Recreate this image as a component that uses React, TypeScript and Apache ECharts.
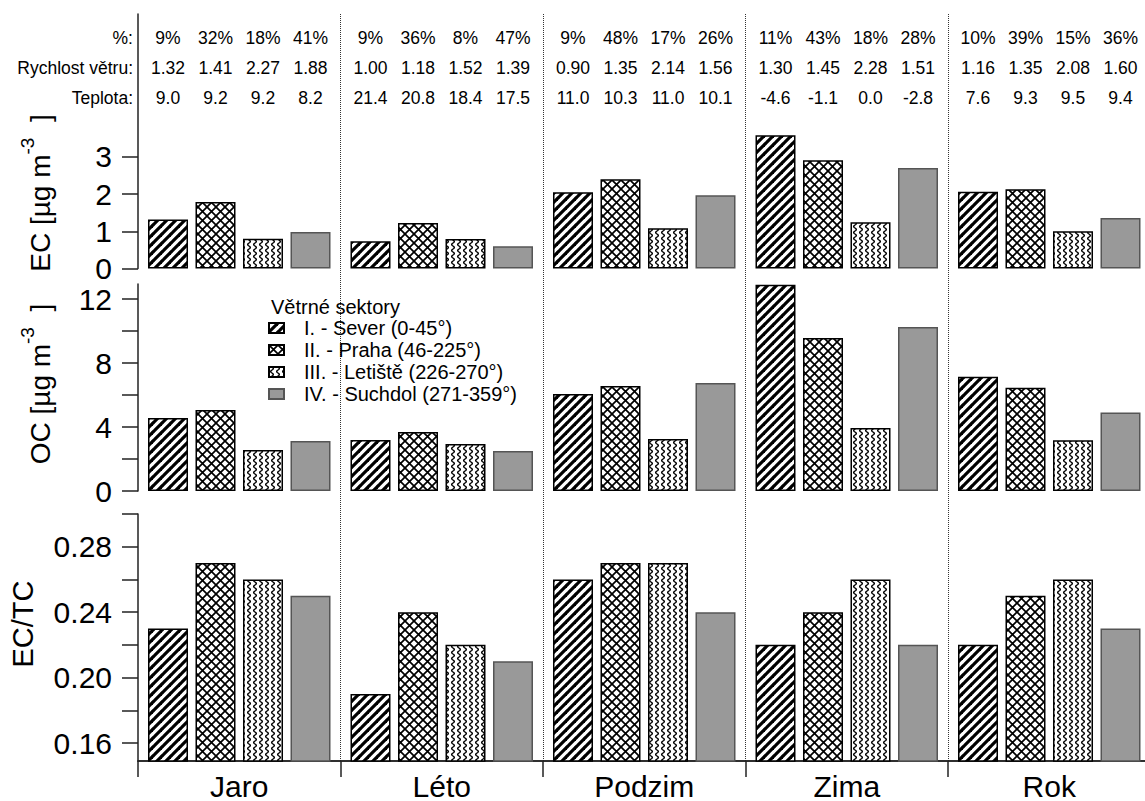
import React, { useEffect, useRef } from "react";
import * as echarts from "echarts";

// Categories
const seasons = ["Jaro", "Léto", "Podzim", "Zima", "Rok"];
const sectors = [
  "I. - Sever (0-45°)",
  "II. - Praha (46-225°)",
  "III. - Letiště (226-270°)",
  "IV. - Suchdol (271-359°)",
];

// EC [µg m-3] per sector, by season
const ecSever = [1.32, 0.73, 2.05, 3.58, 2.06];
const ecPraha = [1.79, 1.22, 2.4, 2.91, 2.13];
const ecLetiste = [0.8, 0.79, 1.08, 1.24, 1.0];
const ecSuchdol = [0.98, 0.6, 1.97, 2.7, 1.36];

// OC [µg m-3] per sector, by season
const ocSever = [4.56, 3.19, 6.06, 12.9, 7.14];
const ocPraha = [5.06, 3.69, 6.56, 9.56, 6.46];
const ocLetiste = [2.56, 2.94, 3.25, 3.94, 3.17];
const ocSuchdol = [3.12, 2.5, 6.75, 10.25, 4.9];

// EC/TC per sector, by season
const ratioSever = [0.23, 0.19, 0.26, 0.22, 0.22];
const ratioPraha = [0.27, 0.24, 0.27, 0.24, 0.25];
const ratioLetiste = [0.26, 0.22, 0.27, 0.26, 0.26];
const ratioSuchdol = [0.25, 0.21, 0.24, 0.22, 0.23];

// Table above the bars: one row per season, one entry per sector
const sharePct = [
  [9, 32, 18, 41],
  [9, 36, 8, 47],
  [9, 48, 17, 26],
  [11, 43, 18, 28],
  [10, 39, 15, 36],
];
const windSpeed = [
  [1.32, 1.41, 2.27, 1.88],
  [1.0, 1.18, 1.52, 1.39],
  [0.9, 1.35, 2.14, 1.56],
  [1.3, 1.45, 2.28, 1.51],
  [1.16, 1.35, 2.08, 1.6],
];
const temperature = [
  [9.0, 9.2, 9.2, 8.2],
  [21.4, 20.8, 18.4, 17.5],
  [11.0, 10.3, 11.0, 10.1],
  [-4.6, -1.1, 0.0, -2.8],
  [7.6, 9.3, 9.5, 9.4],
];
const tableRowLabels = ["%:", "Rychlost větru:", "Teplota:"];

// Axis ticks
const ecTicks = [0, 1, 2, 3];
const ocLabels = [0, 4, 8, 12];
const ocTicks = [0, 2, 4, 6, 8, 10, 12];
const ratioLabels = [0.16, 0.2, 0.24, 0.28];
const ratioTicks = [0.16, 0.18, 0.2, 0.22, 0.24, 0.26, 0.28, 0.3];

const FONT = '"Liberation Sans", Arial, Helvetica, sans-serif';
const BAR_WIDTH = 40;
const BAR_GAP = 0.1875;
const AXIS_COLOR = "#222";
const ROW_OFFSETS = [24, 54, 84];

function tile(w: number, h: number, draw: (ctx: CanvasRenderingContext2D) => void) {
  const c = document.createElement("canvas");
  c.width = w;
  c.height = h;
  const ctx = c.getContext("2d")!;
  ctx.fillStyle = "#fff";
  ctx.fillRect(0, 0, w, h);
  ctx.strokeStyle = "#000";
  draw(ctx);
  return { image: c, repeat: "repeat", imageWidth: w, imageHeight: h } as any;
}

function makePatterns() {
  const stripes = tile(9, 9, (ctx) => {
    ctx.lineWidth = 3.2;
    for (const k of [-1, 0, 1]) {
      ctx.beginPath();
      ctx.moveTo(k * 9 - 1, 10);
      ctx.lineTo(k * 9 + 10, -1);
      ctx.stroke();
    }
  });
  const cross = tile(9, 9, (ctx) => {
    ctx.lineWidth = 1.7;
    ctx.beginPath();
    ctx.moveTo(-1, -1);
    ctx.lineTo(10, 10);
    ctx.moveTo(-1, 10);
    ctx.lineTo(10, -1);
    ctx.stroke();
  });
  const waves = tile(6, 6, (ctx) => {
    ctx.lineWidth = 1.4;
    ctx.beginPath();
    for (let y = -1; y <= 7; y += 0.25) {
      const x = 3 + 1.3 * Math.sin((2 * Math.PI * y) / 6);
      if (y === -1) ctx.moveTo(x, y);
      else ctx.lineTo(x, y);
    }
    ctx.stroke();
  });
  return [
    { color: stripes, borderColor: "#000", borderWidth: 1.5 },
    { color: cross, borderColor: "#000", borderWidth: 1.5 },
    { color: waves, borderColor: "#000", borderWidth: 1.5 },
    { color: "#999999", borderColor: "#555", borderWidth: 1.5 },
  ];
}

function valueAxis(
  gridIndex: number,
  min: number,
  max: number,
  labels: number[],
  ticks: number[],
  digits: number
) {
  return {
    type: "value",
    gridIndex,
    min,
    max,
    axisLine: { show: true, lineStyle: { color: AXIS_COLOR, width: 1.5 } },
    axisTick: {
      show: true,
      length: 16,
      customValues: ticks,
      lineStyle: { color: AXIS_COLOR, width: 1.5 },
    },
    axisLabel: {
      customValues: labels,
      fontSize: 30,
      fontFamily: FONT,
      color: "#000",
      margin: 26,
      formatter: (v: number) => v.toFixed(digits),
    },
    splitLine: { show: false },
  };
}

function hiddenCategory(gridIndex: number) {
  return {
    type: "category",
    gridIndex,
    data: seasons,
    show: false,
  };
}

export default function App() {
  const ref = useRef<HTMLDivElement>(null);

  useEffect(() => {
    if (!ref.current) return;
    const chart = echarts.init(ref.current, null, { renderer: "svg" });
    const styles = makePatterns();

    const panels = [
      [ecSever, ecPraha, ecLetiste, ecSuchdol],
      [ocSever, ocPraha, ocLetiste, ocSuchdol],
      [ratioSever, ratioPraha, ratioLetiste, ratioSuchdol],
    ];

    const series: any[] = [];
    panels.forEach((values, p) =>
      values.forEach((arr, s) =>
        series.push({
          type: "bar",
          name: sectors[s],
          xAxisIndex: p,
          yAxisIndex: p,
          data: arr,
          barWidth: BAR_WIDTH,
          barGap: `${BAR_GAP * 100}%`,
          itemStyle: styles[s],
        })
      )
    );

    const tableData: number[][] = [];
    seasons.forEach((_, g) => sectors.forEach((__, s) => tableData.push([g, s])));

    series.push({
      type: "custom",
      xAxisIndex: 3,
      yAxisIndex: 3,
      data: tableData,
      encode: { x: 0, y: 1 },
      clip: false,
      silent: true,
      renderItem: (params: any, api: any) => {
        const g = api.value(0) as number;
        const s = api.value(1) as number;
        const cx = api.coord([g, 0])[0] + (s - 1.5) * BAR_WIDTH * (1 + BAR_GAP);
        const top = params.coordSys.y;
        const texts = [
          `${sharePct[g][s]}%`,
          windSpeed[g][s].toFixed(2),
          temperature[g][s].toFixed(1),
        ];
        return {
          type: "group",
          children: texts.map((t, i) => ({
            type: "text",
            x: cx,
            y: top + ROW_OFFSETS[i],
            style: {
              text: t,
              fill: "#000",
              fontSize: 17.5,
              fontFamily: FONT,
              align: "center",
              verticalAlign: "middle",
            },
          })),
        };
      },
    });

    const nameRich = {
      a: { fontSize: 28, fontFamily: FONT, fill: "#000" },
      s: { fontSize: 19, fontFamily: FONT, fill: "#000", padding: [0, 0, 26, 0] },
    };

    const option: any = {
      animation: false,
      backgroundColor: "#fff",
      grid: [
        { left: 138, right: 9.5, top: 14, height: 254.5 },
        { left: 138, right: 9.5, top: 284, height: 207 },
        { left: 138, right: 9.5, top: 514, height: 247 },
        { left: 138, right: 9.5, top: 14, height: 747 },
      ],
      xAxis: [
        hiddenCategory(0),
        hiddenCategory(1),
        {
          type: "category",
          gridIndex: 2,
          data: seasons,
          axisLine: { show: true, lineStyle: { color: AXIS_COLOR, width: 1.5 } },
          axisTick: { show: true, length: 16, lineStyle: { color: AXIS_COLOR, width: 1.5 } },
          axisLabel: { fontSize: 30, fontFamily: FONT, color: "#000", margin: 10 },
        },
        {
          type: "category",
          gridIndex: 3,
          data: seasons,
          position: "top",
          axisLine: { show: true, lineStyle: { color: AXIS_COLOR, width: 1.5 } },
          axisTick: { show: false },
          axisLabel: { show: false },
          splitLine: {
            show: true,
            interval: (index: number) => index > 0,
            lineStyle: { color: "#333", width: 1, type: [1, 1] },
          },
        },
      ],
      yAxis: [
        valueAxis(0, 0, 6.84, ecTicks, ecTicks, 0),
        valueAxis(1, 0, 12.94, ocLabels, ocTicks, 0),
        valueAxis(2, 0.149, 0.3, ratioLabels, ratioTicks, 2),
        { type: "value", gridIndex: 3, min: 0, max: 3, show: false },
      ],
      legend: {
        data: sectors,
        orient: "vertical",
        left: 268,
        top: 317,
        padding: 0,
        itemWidth: 15,
        itemHeight: 10,
        itemGap: 0,
        icon: "rect",
        selectedMode: false,
        textStyle: {
          fontSize: 20,
          fontFamily: FONT,
          color: "#000",
          lineHeight: 22,
          padding: [0, 0, 0, 15],
        },
      },
      graphic: [
        ...tableRowLabels.map((t, i) => ({
          type: "text",
          x: 133,
          y: 14 + ROW_OFFSETS[i],
          style: {
            text: t,
            fill: "#000",
            fontSize: 17.5,
            fontFamily: FONT,
            align: "right",
            verticalAlign: "middle",
          },
        })),
        {
          type: "text",
          x: 271,
          y: 307,
          style: {
            text: "Větrné sektory",
            fill: "#000",
            fontSize: 20,
            fontFamily: FONT,
            align: "left",
            verticalAlign: "middle",
          },
        },
        {
          type: "text",
          x: 40,
          y: 193,
          rotation: Math.PI / 2,
          style: {
            text: "{a|EC [µg m}{s|-3}{a|  ]}",
            rich: nameRich,
            align: "center",
            verticalAlign: "middle",
          },
        },
        {
          type: "text",
          x: 40,
          y: 384,
          rotation: Math.PI / 2,
          style: {
            text: "{a|OC [µg m}{s|-3}{a|  ]}",
            rich: nameRich,
            align: "center",
            verticalAlign: "middle",
          },
        },
        {
          type: "text",
          x: 23,
          y: 624,
          rotation: Math.PI / 2,
          style: {
            text: "EC/TC",
            fill: "#000",
            fontSize: 29,
            fontFamily: FONT,
            align: "center",
            verticalAlign: "middle",
          },
        },
      ],
      series,
    };

    chart.setOption(option);
    return () => chart.dispose();
  }, []);

  return (
    <div
      style={{
        position: "fixed",
        left: 0,
        top: 0,
        width: 1145,
        height: 801,
        overflow: "hidden",
        background: "#fff",
      }}
    >
      <div ref={ref} style={{ width: 1160, height: 801 }} />
    </div>
  );
}
